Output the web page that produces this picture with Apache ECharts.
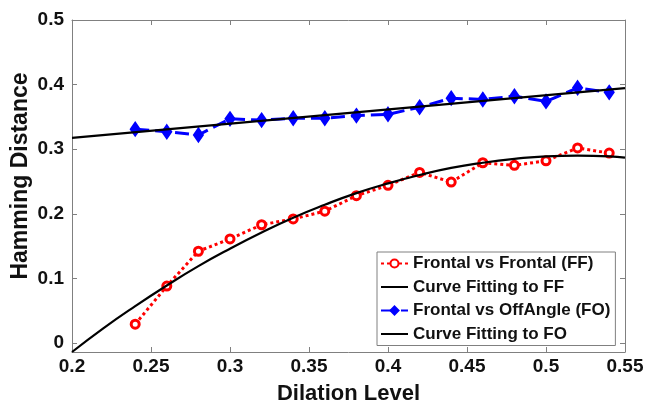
<!DOCTYPE html>
<html><head><meta charset="utf-8">
<script src="https://cdn.jsdelivr.net/npm/echarts@6/dist/echarts.min.js"></script>
<style>html,body{margin:0;padding:0;background:#fff}#c{width:647px;height:407px}</style>
</head><body><div id="c"></div>
<script>
const dilation = [0.24,0.26,0.28,0.30,0.32,0.34,0.36,0.38,0.40,0.42,0.44,0.46,0.48,0.50,0.52,0.54];
const ffValues = [0.029,0.088,0.142,0.161,0.183,0.192,0.204,0.228,0.244,0.264,0.249,0.279,0.275,0.282,0.302,0.294];
const foValues = [0.331,0.327,0.322,0.347,0.345,0.348,0.348,0.352,0.354,0.365,0.379,0.377,0.382,0.374,0.395,0.388];
const fitFFx = [0.20,0.22,0.24,0.26,0.28,0.30,0.32,0.34,0.36,0.38,0.40,0.42,0.44,0.46,0.48,0.50,0.52,0.54,0.55];
const fitFFy = [-0.014,0.023,0.057,0.089,0.119,0.146,0.171,0.194,0.214,0.232,0.247,0.260,0.271,0.279,0.285,0.289,0.290,0.289,0.287];
const fitFOx = [0.20,0.55];
const fitFOy = [0.3175,0.3945];
const xTicks = [0.2,0.25,0.3,0.35,0.4,0.45,0.5,0.55];
const yTicks = [0,0.1,0.2,0.3,0.4,0.5];
const names = ['Frontal vs Frontal (FF)','Curve Fitting to FF','Frontal vs OffAngle (FO)','Curve Fitting to FO'];

const pair = (xs, ys) => xs.map((x,i)=>[x, ys[i]]);
const font = 'Liberation Sans, Arial, Helvetica, sans-serif';
const axisCol = '#808080';

const chart = echarts.init(document.getElementById('c'), null, {renderer:'canvas'});
const baseX = {type:'value', min:0.2, max:0.55,
  axisLine:{show:true, onZero:false, lineStyle:{color:axisCol, width:1}},
  axisTick:{show:true, inside:true, length:5, customValues:xTicks, lineStyle:{color:axisCol}},
  splitLine:{show:false}};
const baseY = {type:'value', min:-0.014, max:0.5,
  axisLine:{show:true, onZero:false, lineStyle:{color:axisCol, width:1}},
  axisTick:{show:true, inside:true, length:5, customValues:yTicks, lineStyle:{color:axisCol}},
  splitLine:{show:false}};

chart.setOption({
  animation:false,
  backgroundColor:'#fff',
  grid:{left:72, right:22, top:20, bottom:55, containLabel:false, outerBoundsMode:'none'},
  xAxis:[
    Object.assign({}, baseX, {position:'bottom', name:'Dilation Level', nameLocation:'middle', nameGap:31, nameMoveOverlap:false,
      nameTextStyle:{fontFamily:font, fontWeight:'bold', fontSize:22, color:'#111'},
      axisLabel:{show:true, customValues:xTicks, margin:5, fontFamily:font, fontWeight:'bold', fontSize:19, color:'#111',
        formatter:v=>String(+v.toFixed(2))}}),
    Object.assign({}, baseX, {position:'top', axisLabel:{show:false}})
  ],
  yAxis:[
    Object.assign({}, baseY, {position:'left', name:'Hamming Distance', nameLocation:'middle', nameGap:40, nameRotate:90, nameMoveOverlap:false,
      nameTextStyle:{fontFamily:font, fontWeight:'bold', fontSize:23, color:'#111', padding:[0,0,0,20]},
      axisLabel:{show:true, customValues:yTicks, margin:8, fontFamily:font, fontWeight:'bold', fontSize:19, color:'#111',
        formatter:v=>String(+v.toFixed(1))}}),
    Object.assign({}, baseY, {position:'right', axisLabel:{show:false}})
  ],
  legend:{
    left:377, top:252, orient:'vertical',
    backgroundColor:'#fff', borderColor:'#808080', borderWidth:1, borderRadius:0,
    padding:[3,5,3,3], itemWidth:27, itemHeight:10, itemGap:6.5,
    textStyle:{fontFamily:font, fontWeight:'bold', fontSize:17, color:'#111'},
    data:[
      {name:names[0]},
      {name:names[1], itemStyle:{opacity:0}},
      {name:names[2]},
      {name:names[3], itemStyle:{opacity:0}}
    ]
  },
  series:[
    {name:names[0], type:'line', data:pair(dilation, ffValues), z:3,
      lineStyle:{color:'#ff0000', width:3, type:[3,3]},
      symbol:'circle', symbolSize:8,
      itemStyle:{color:'#fff', borderColor:'#ff0000', borderWidth:3}},
    {name:names[1], type:'line', data:pair(fitFFx, fitFFy), smooth:true, showSymbol:false, z:5,
      lineStyle:{color:'#000', width:2.2}, itemStyle:{color:'#000', opacity:0}},
    {name:names[2], type:'line', data:pair(dilation, foValues), z:3,
      lineStyle:{color:'#0000ff', width:3, type:[14,6]},
      symbol:'diamond', symbolSize:[9,13],
      itemStyle:{color:'#0000ff', borderColor:'#0000ff', borderWidth:2}},
    {name:names[3], type:'line', data:pair(fitFOx, fitFOy), showSymbol:false, z:5,
      lineStyle:{color:'#000', width:2.2}, itemStyle:{color:'#000', opacity:0}}
  ]
});
</script></body></html>
